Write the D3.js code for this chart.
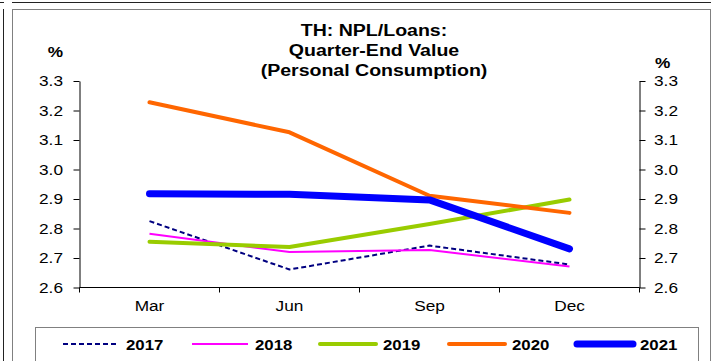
<!DOCTYPE html>
<html>
<head>
<meta charset="utf-8">
<script src="https://cdn.jsdelivr.net/npm/d3@7"></script>
<style>
  html, body { margin: 0; padding: 0; background: #fff; }
  svg { display: block; font-family: "Liberation Sans", Arial, sans-serif; }
</style>
</head>
<body>
<svg id="chart" width="712" height="361"></svg>
<script>
// Quarter-end NPL/loans ratio for personal consumption, by year
const quarters = ["Mar", "Jun", "Sep", "Dec"];
const years = ["2017", "2018", "2019", "2020", "2021"];
const v2017 = [2.825, 2.661, 2.742, 2.678];
const v2018 = [2.782, 2.720, 2.727, 2.671];
const v2019 = [2.755, 2.737, 2.815, 2.898];
const v2020 = [3.228, 3.126, 2.911, 2.853];
const v2021 = [2.918, 2.916, 2.897, 2.731];
const yTicks = [2.6, 2.7, 2.8, 2.9, 3.0, 3.1, 3.2, 3.3];
const titleLines = ["TH: NPL/Loans:", "Quarter-End Value", "(Personal Consumption)"];

const seriesValues = [v2017, v2018, v2019, v2020, v2021];
const styles = [
  { color: "#000080", width: 2, dash: "5,3", cap: "butt" },
  { color: "#FF00FF", width: 2, dash: null, cap: "butt" },
  { color: "#99CC00", width: 4, dash: null, cap: "round" },
  { color: "#FF6600", width: 4, dash: null, cap: "round" },
  { color: "#0000FF", width: 7, dash: null, cap: "round" }
];

const svg = d3.select("#chart");
const SX = 1.15; // horizontal stretch of the lettering

// frames
svg.append("line").attr("x1", 0).attr("x2", 4).attr("y1", 2.5).attr("y2", 2.5).attr("stroke", "#222");
svg.append("line").attr("x1", 12).attr("x2", 711).attr("y1", 2.5).attr("y2", 2.5).attr("stroke", "#222");
svg.append("line").attr("x1", 3.5).attr("x2", 3.5).attr("y1", 9).attr("y2", 361).attr("stroke", "#222");
svg.append("rect").attr("x", 12.5).attr("y", 9.5).attr("width", 698).attr("height", 400)
  .attr("fill", "none").attr("stroke", "#808080");

const plot = { left: 79.5, right: 639.5, top: 81, bottom: 287.5 };

const x = d3.scaleBand().domain(quarters).range([plot.left, plot.right]).padding(0);
const y = d3.scaleLinear().domain([2.6, 3.3]).range([plot.bottom, plot.top]);

// title
const title = svg.append("g").attr("font-weight", "bold").attr("font-size", 17).attr("fill", "#000");
titleLines.forEach((t, i) => {
  title.append("text")
    .attr("transform", `translate(374,${36 + i * 20}) scale(${SX},1)`)
    .attr("text-anchor", "middle")
    .text(t);
});

// left axis
const leftAxis = svg.append("g").attr("transform", `translate(${plot.left},0)`)
  .call(d3.axisLeft(y).tickValues(yTicks).tickSize(6).tickSizeOuter(0).tickFormat(""));
const rightAxis = svg.append("g").attr("transform", `translate(${plot.right},0)`)
  .call(d3.axisRight(y).tickValues(yTicks).tickSize(6).tickSizeOuter(0).tickFormat(""));
[leftAxis, rightAxis].forEach(a => {
  a.select(".domain").attr("stroke", "#000");
  a.selectAll(".tick line").attr("stroke", "#000");
});

const fmt = d3.format(".1f");
const labels = svg.append("g").attr("font-size", 15).attr("fill", "#000");
yTicks.forEach(v => {
  labels.append("text").attr("transform", `translate(63,${y(v)}) scale(${SX},1)`)
    .attr("dy", "0.35em").attr("text-anchor", "end").text(fmt(v));
  labels.append("text").attr("transform", `translate(654,${y(v)}) scale(${SX},1)`)
    .attr("dy", "0.35em").attr("text-anchor", "start").text(fmt(v));
});
labels.append("text").attr("transform", `translate(63,57) scale(${SX},1)`)
  .attr("text-anchor", "end").attr("font-weight", "bold").text("%");
labels.append("text").attr("transform", `translate(655,68) scale(${SX},1)`)
  .attr("text-anchor", "start").attr("font-weight", "bold").text("%");

// bottom axis with ticks at category boundaries
const bottom = svg.append("g");
bottom.append("line").attr("x1", plot.left).attr("x2", plot.right)
  .attr("y1", plot.bottom).attr("y2", plot.bottom).attr("stroke", "#000");
const bounds = quarters.map(q => x(q)).concat([x(quarters[quarters.length - 1]) + x.bandwidth()]);
bounds.forEach(b => {
  bottom.append("line").attr("x1", b).attr("x2", b)
    .attr("y1", plot.bottom).attr("y2", plot.bottom + 5).attr("stroke", "#000");
});
quarters.forEach(q => {
  labels.append("text")
    .attr("transform", `translate(${x(q) + x.bandwidth() / 2},311) scale(${SX},1)`)
    .attr("text-anchor", "middle").text(q);
});

// series lines
const line = d3.line()
  .x((d, i) => x(quarters[i]) + x.bandwidth() / 2)
  .y(d => y(d));
seriesValues.forEach((vals, i) => {
  const s = styles[i];
  svg.append("path").datum(vals)
    .attr("d", line)
    .attr("fill", "none")
    .attr("stroke", s.color)
    .attr("stroke-width", s.width)
    .attr("stroke-linecap", s.cap)
    .attr("stroke-linejoin", "round")
    .attr("stroke-dasharray", s.dash);
});

// legend
svg.append("rect").attr("x", 35.5).attr("y", 327.5).attr("width", 663).attr("height", 60)
  .attr("fill", "#fff").attr("stroke", "#808080");
const legendX = [63, 192, 320, 449, 577];
const legend = svg.append("g").attr("font-size", 15).attr("font-weight", "bold");
years.forEach((yr, i) => {
  const s = styles[i];
  const lx = legendX[i];
  legend.append("line").attr("x1", lx).attr("x2", lx + 56).attr("y1", 344).attr("y2", 344)
    .attr("stroke", s.color).attr("stroke-width", s.width)
    .attr("stroke-linecap", s.cap).attr("stroke-dasharray", s.dash);
  legend.append("text").attr("transform", `translate(${lx + 63},350) scale(1.12,1)`)
    .text(yr);
});
</script>
</body>
</html>
